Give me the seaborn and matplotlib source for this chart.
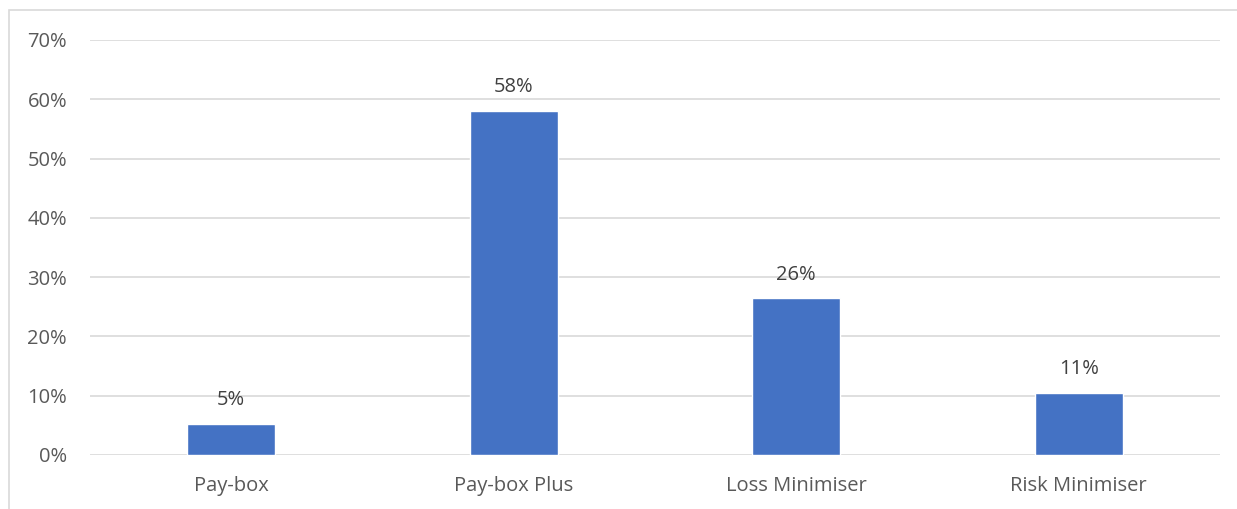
import matplotlib
matplotlib.use("Agg")
import matplotlib.pyplot as plt
import seaborn as sns
import pandas as pd
from matplotlib.patches import Rectangle
from matplotlib.ticker import FuncFormatter

categories = ["Pay-box", "Pay-box Plus", "Loss Minimiser", "Risk Minimiser"]
values = [0.053, 0.58, 0.264, 0.105]
labels = ["5%", "58%", "26%", "11%"]

sns.set_theme(style="white")
plt.rcParams['font.family'] = ['Open Sans', 'DejaVu Sans']

df = pd.DataFrame({"cat": categories, "val": values})

fig = plt.figure(figsize=(12.37, 5.09), dpi=100)
ax = fig.add_axes([90/1237, 1-455/509, (1220-90)/1237, (455-40)/509])

sns.barplot(data=df, x="cat", y="val", color="#4472C4", saturation=1, width=0.31, ax=ax, zorder=3)

ax.set_ylim(0, 0.7)
ax.set_xlim(-0.5, 3.5)
ax.set_yticks([i/10 for i in range(8)])
ax.yaxis.set_major_formatter(FuncFormatter(lambda v, p: f"{v*100:.0f}%"))
ax.grid(axis="y", color="#D9D9D9", linewidth=1.2, zorder=0)
for s in ax.spines.values():
    s.set_visible(False)
ax.set_xlabel("")
ax.set_ylabel("")
ax.tick_params(axis="both", length=0, labelsize=14.5, colors="#595959")
ax.tick_params(axis="x", pad=15)
ax.tick_params(axis="y", pad=16.5)

for i, (v, l) in enumerate(zip(values, labels)):
    ax.annotate(l, (i, v), xytext=(0, 10), textcoords="offset points",
                ha="center", va="bottom", fontsize=14.5, color="#404040")

fig.patches.append(Rectangle((9/1237, -0.1), 1.2, 1-10/509+0.1, transform=fig.transFigure,
                             fill=False, edgecolor="#D9D9D9", linewidth=1.2))

fig.savefig("out.png", dpi=100)
